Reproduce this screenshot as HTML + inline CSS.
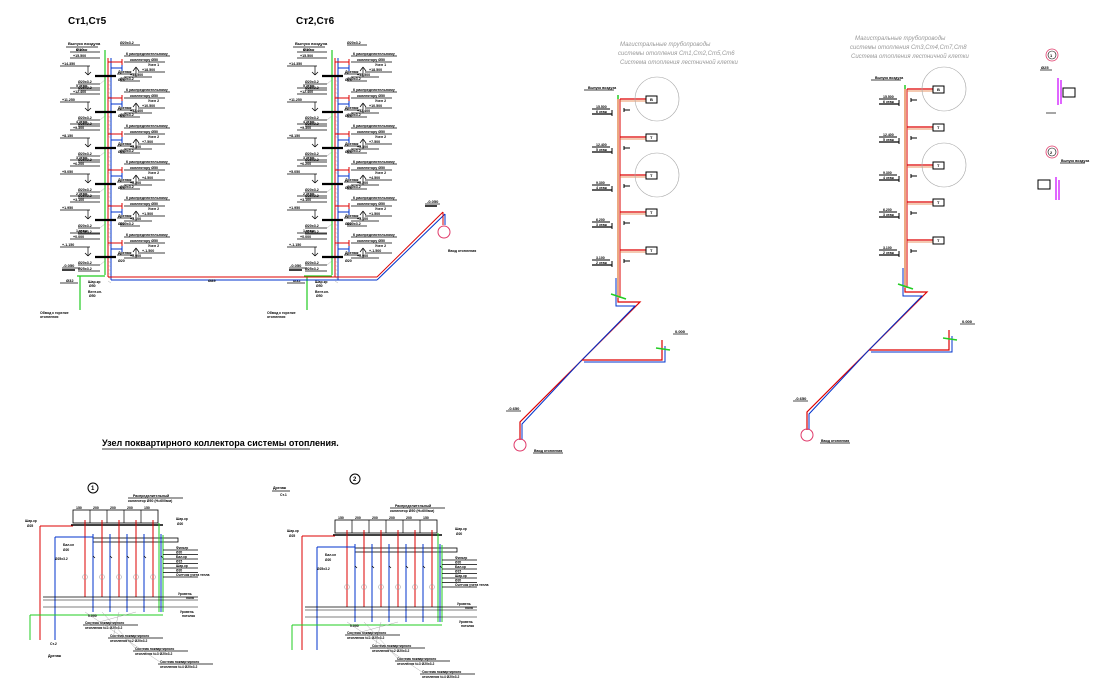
<!DOCTYPE html>
<html><head><meta charset="utf-8">
<style>
html,body{margin:0;padding:0;background:#fff;}
svg{display:block;font-family:"Liberation Sans",sans-serif;}
svg text{font-weight:bold;}
.g{font-size:6px;fill:#999;font-style:italic;font-weight:normal !important;}
</style></head>
<body>
<svg id="s" width="1094" height="698" viewBox="0 0 1094 698" xmlns="http://www.w3.org/2000/svg">
<text x="68" y="24" font-size="10" font-weight="bold">Ст1,Ст5</text>
<text x="296" y="24" font-size="10" font-weight="bold">Ст2,Ст6</text>
<text x="102" y="446" font-size="9" font-weight="bold">Узел поквартирного коллектора системы отопления.</text>
<line x1="102" y1="449" x2="310" y2="449" stroke="#000" stroke-width="0.8"/>
<text class="g" x="620" y="46">Магистральные трубопроводы</text>
<text class="g" x="618" y="55">системы отопления Ст1,Ст2,Ст5,Ст6</text>
<text class="g" x="620" y="64">Система отопления лестничной клетки</text>
<text class="g" x="855" y="40">Магистральные трубопроводы</text>
<text class="g" x="850" y="49">системы отопления Ст3,Ст4,Ст7,Ст8</text>
<text class="g" x="851" y="58">Система отопления лестничной клетки</text>
</svg>
<script>
const s=document.getElementById('s');const NS='http://www.w3.org/2000/svg';
function el(n,a,txt){const e=document.createElementNS(NS,n);for(const k in a)e.setAttribute(k,a[k]);if(txt)e.textContent=txt;s.appendChild(e);return e;}
function L(x1,y1,x2,y2,c,w){el('line',{x1,y1,x2,y2,stroke:c||'#000','stroke-width':w||0.7});}
function P(d,c,w){el('path',{d,stroke:c,'stroke-width':w||1,fill:'none'});}
function T(x,y,t,sz){el('text',{x,y,'font-size':sz||4},t);}
function C(cx,cy,r,c,w){el('circle',{cx,cy,r,stroke:c||'#000','stroke-width':w||0.7,fill:'none'});}
function R(x,y,w,h,c,sw){el('rect',{x,y,width:w,height:h,stroke:c||'#000','stroke-width':sw||0.8,fill:'none'});}
const R_='#d00',B_='#0033cc',G_='#2c2';
function riser(ox){
 L(ox+105,50,ox+105,275,G_,1.2);
 L(ox+108,58,ox+108,277,R_,1);
 L(ox+111,58,ox+111,280,B_,1);
 T(ox+68,45,'Выпуск воздуха');L(ox+66,47,ox+98,47);T(ox+76,51,'Ø10');
 const ys=[76,112,148,184,220,257];const fl=['6 этаж','5 этаж','4 этаж','3 этаж','2 этаж','1 этаж'];
 const el1=['+15.500','+12.400','+9.300','+6.200','+3.100','+0.000'];
 ys.forEach((y,i)=>{
  L(ox+95,y,ox+116,y,'#000',2.2);
  L(ox+108,y-14,ox+122,y-14,R_,1);L(ox+111,y-8,ox+122,y-8,B_,1);
  L(ox+122,y-17,ox+122,y-11,R_,1);L(ox+122,y-11,ox+122,y-5,B_,1);
  L(ox+124,y-20,ox+170,y-20);T(ox+126,y-21,'К распределительному',3.6);
  L(ox+124,y-14,ox+165,y-14);T(ox+130,y-15,'коллектору Ø50',3.6);
  T(ox+148,y-10,'Узел '+(i==0?1:2),3.6);
  L(ox+136,y-8,ox+136,y+1);L(ox+133,y-5,ox+136,y-9);L(ox+139,y-5,ox+136,y-9);
  L(ox+138,y-4,ox+165,y-4);T(ox+142,y-5,(i==0?'+18.500':'+'+(13.5-i*3).toFixed(3)),3.6);
  L(ox+124,y+1,ox+152,y+1);T(ox+130,y,'+'+(15.5-i*3.1).toFixed(3),3.6);
  L(ox+117,y-2,ox+134,y-2);T(ox+118,y-3,'Дренаж',3.6);T(ox+118,y+5,'Ø20',3.6);
  L(ox+120,y-31,ox+140,y-31);T(ox+120,y-32,'Ø20x3.2',3.6);
  L(ox+70,y-24,ox+100,y-24);T(ox+76,y-25,fl[i],3.6);
  L(ox+70,y-18,ox+100,y-18);T(ox+73,y-19,el1[i],3.6);
  L(ox+60,y-10,ox+90,y-10);T(ox+62,y-11,'+'+(14.35-i*3.1).toFixed(3),3.6);
  L(ox+88,y-10,ox+88,y-1);L(ox+85,y-4,ox+88,y-1);L(ox+91,y-4,ox+88,y-1);
  L(ox+78,y+8,ox+100,y+8);T(ox+78,y+7,'Ø20x3.2',3.6);
  L(ox+78,y+14,ox+100,y+14);T(ox+78,y+13,'Ø25x3.2',3.6);
  P(`M${ox+100} ${y+8} L${ox+106} ${y+3}`,'#999',0.4);
  for(let k=0;k<6;k++)L(ox+108,y+4+k*4,ox+111,y+6+k*4,'#999',0.4);
 });
 L(ox+108,277,ox+123,277,R_,1);L(ox+111,280,ox+123,280,B_,1);
 L(ox+77,276,ox+105,276,G_,1.2);L(ox+80,276,ox+80,310,G_,1.2);
 L(ox+62,268,ox+80,268);L(ox+62,270,ox+75,270,'#000',1.5);T(ox+63,267,'-0.050');
 L(ox+60,283,ox+78,283);T(ox+66,282,'Ø32');
 T(ox+40,314,'Обвод к горелке',3.5);T(ox+40,318,'отопления',3.5);
 T(ox+88,283,'Шар.кр',3.5);T(ox+89,287,'Ø50',3.5);T(ox+88,293,'Вент.кл.',3.5);T(ox+89,297,'Ø50',3.5);
}
riser(0);riser(227);
L(123,277,377,277,R_,1);L(123,280,377,280,B_,1);
L(377,277,443,212,R_,1);L(377,280,445,214,B_,1);
L(443,212,443,225,R_,1);L(445,214,445,225,B_,1);C(444,232,6,'#e03a6a',1);
L(425,204,440,204);L(425,206,437,206,'#000',1.5);T(427,203,'-0.050');
T(208,282,'Ø89');T(448,252,'Ввод отопления',3.5);
function trunk(dx,dy){
 const x=618+dx,t=99+dy;
 L(x,t,x,298+dy,'#e07030',1.2);L(x+2,t,x+2,298+dy,R_,1);
 L(x,t-4,x,t,G_,1.5);
 T(x-30,t-10,'Выпуск воздуха',3.5);L(x-34,t-9,x-4,t-9);
 const by=[0,38,76,113,151];
 by.forEach((b,i)=>{const y=t+b;
  L(x+2,y,x+28,y,R_,1.2);L(x+2,y+2,x+28,y+2,'#e07030',0.8);
  R(x+28,y-3,11,7,'#000',1);T(x+32,y+2,i==0?'В':'Т');
  L(x+6,y+9,x+6,y+13,'#000',1);L(x+6,y+11,x+12,y+11,'#000',1);
  L(x-26,y+10,x-8,y+10,'#000',1);L(x-26,y+15,x-6,y+15,'#000',1.2);L(x-6,y+11,x-6,y+17,'#000',1);
  T(x-22,y+9,(15.5-i*3.1).toFixed(3),3.5);T(x-22,y+14,(6-i)+' этаж',3.5);
 });
 C(x+39,t,22,'#aaa',0.6);C(x+39,t+76,22,'#aaa',0.6);
 const B=298+dy;
 P(`M${x} ${B} L${x} ${B+4} L${x+22} ${B+4} L${x-36} ${B+62} L${x-98} ${B+124} L${x-98} ${B+142}`,R_,1.2);
 P(`M${x-2} ${B-20} L${x-2} ${B+8} L${x+17} ${B+8} L${x-38} ${B+64} L${x-96} ${B+126} L${x-96} ${B+142}`,B_,1);
 P(`M${x-36} ${B+62} L${x+44} ${B+62} L${x+44} ${B+42}`,R_,1.2);
 P(`M${x-34} ${B+64} L${x+47} ${B+64} L${x+47} ${B+48}`,B_,1);
 C(x-98,B+147,6,'#e03a6a',1);
 L(x-7,B-4,x+8,B+1,G_,1.5);L(x+38,B+50,x+52,B+52,G_,1.5);
 L(x-112,B+113,x-97,B+113);T(x-110,B+112,'-0.650');
 L(x-85,B+155,x-55,B+155);T(x-84,B+154,'Ввод отопления',3.5);
 L(x+55,B+36,x+70,B+36);T(x+57,B+35,'0.000');
}
trunk(0,0);trunk(287,-10);
C(1052,55,6,'#e03a6a',0.8);C(1052,55,4,'#000',0.6);T(1050,57,'1');
C(1052,152,6,'#e03a6a',0.8);C(1052,152,4,'#000',0.6);T(1050,154,'2');
L(1058,78,1058,105,'#c0f',1.2);L(1061,80,1061,104,'#c0f',1.2);R(1063,88,12,9,'#000',1);
L(1040,70,1052,70);T(1041,69,'Ø25');L(1046,113,1056,113);
L(1056,177,1056,200,'#c0f',1.2);L(1059,180,1059,200,'#c0f',1.2);R(1038,180,12,9,'#000',1);
L(1060,163,1085,163);T(1061,162,'Выпуск воздуха',3.5);
function coll(ox,oy,num,n,cy){
 C(ox+93,cy,5,'#000',1);T(ox+91,cy+2,num,6);
 const cx=ox+73,cw=n*17;
 R(cx,oy+510,cw,13,'#000',0.8);
 for(let i=1;i<n;i++)L(cx+i*17,oy+510,cx+i*17,oy+523);
 for(let i=0;i<n;i++)T(cx+3+i*17,oy+509,i==0||i==n-1?'150':'200',3.5);
 L(cx-2,oy+525,cx+cw+5,oy+525,'#000',1.5);
 R(cx+20,oy+538,cw,4,'#000',0.8);
 for(let i=0;i<n;i++){const px=cx+12+i*17;
  L(px,oy+520,px,oy+597,R_,1);L(px+8,oy+534,px+8,oy+612,B_,1);
  C(px,oy+577,2.5,'#999',0.5);L(px+8,oy+556,px+10,oy+558);
 }
 L(cx+cw+1,oy+523,cx+cw+1,oy+612,G_,1);L(cx+cw+5,oy+535,cx+cw+5,oy+612,G_,1);
 L(ox+40,oy+526,cx,oy+526,R_,1);L(ox+40,oy+526,ox+40,oy+640,R_,1);
 L(ox+55,oy+537,cx+20,oy+537,B_,1);L(ox+55,oy+537,ox+55,oy+640,B_,1);
 L(ox+30,oy+615,cx+cw+5,oy+615,G_,1);L(ox+30,oy+615,ox+30,oy+640,G_,1);
 L(cx-30,oy+597,cx+cw+40,oy+597,'#000',0.8);L(cx-30,oy+600,cx+cw+40,oy+600,'#000',0.6);L(cx-30,oy+607,cx+cw+40,oy+607,'#000',0.6);
 const labs=['Фильтр','Ø20','Бал.кр','Ø15','Шар.кр','Ø20','Счетчик учета тепла'];
 labs.forEach((t,i)=>{L(cx+cw+5,oy+550+i*4.5,cx+cw+40,oy+550+i*4.5);T(cx+cw+18,oy+549+i*4.5,t,3.3);});
 T(cx+cw+20,oy+595,'Уровень',3.3);T(cx+cw+28,oy+599,'пола',3.3);
 T(cx+cw+22,oy+613,'Уровень',3.3);T(cx+cw+24,oy+617,'потолка',3.3);
 T(cx+cw+18,oy+520,'Шар.кр',3.3);T(cx+cw+19,oy+525,'Ø20',3.3);
 T(cx+60,oy+497,'Распределительный',3.5);T(cx+55,oy+502,'коллектор Ø50 (Н=600мм)',3.5);L(cx+55,oy+498,cx+110,oy+498);
 for(let k=0;k<4;k++){const yy=oy+625+k*13,xx=cx+10+k*25;
  L(xx,yy,xx+55,yy);T(xx+2,yy-1,'Система поквартирного',3.3);T(xx+2,yy+4,'отопления №'+(k+1)+' Ø20x3.2',3.3);
  L(xx+5,yy,cx+12+(3-k)*17,oy+612,'#999',0.4);}
 T(ox+25,oy+522,'Шар.кр',3.3);T(ox+27,oy+527,'Ø25',3.3);
 T(ox+63,oy+546,'Бал.кл',3.3);T(ox+63,oy+551,'Ø20',3.3);T(ox+55,oy+560,'Ø25x3.2',3.3);
 T(ox+88,oy+617,'0.000',3.5);
}
coll(0,0,'1',5,488);coll(262,10,'2',6,479);
T(273,489,'Дренаж',3.5);L(272,491,290,491);T(280,496,'Ст.1',3.5);
T(48,657,'Дренаж',3.5);T(50,645,'Ст.2',3.5);
</script>
</body></html>
